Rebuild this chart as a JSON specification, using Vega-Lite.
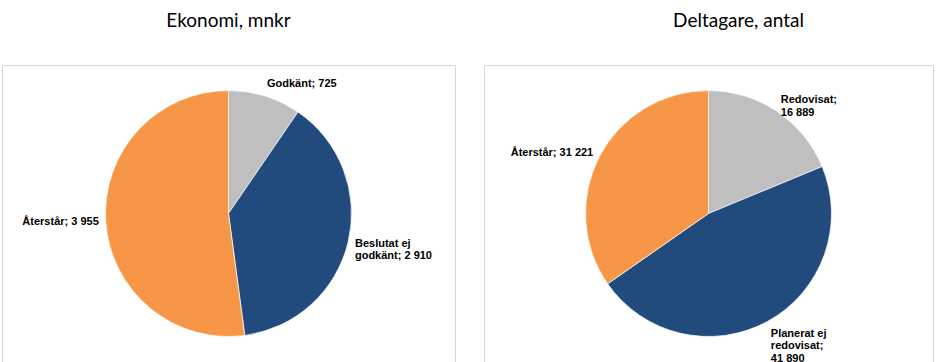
{
  "$schema": "https://vega.github.io/schema/vega-lite/v6.json",
  "padding": {"top": 11, "left": 1, "right": 0, "bottom": 0},
  "spacing": 27,
  "background": "white",
  "config": {
    "view": {"stroke": "#D9D9D9", "strokeWidth": 1},
    "title": {"font": "Lato", "fontSize": 19, "fontWeight": "normal", "color": "#000000", "anchor": "middle", "offset": 34}
  },
  "datasets": {
    "ekonomi": [
      {"category": "Godkänt", "value": 725, "order": 1, "label": "Godkänt; 725"},
      {"category": "Beslutat ej godkänt", "value": 2910, "order": 2, "label": "Beslutat ej\ngodkänt; 2 910"},
      {"category": "Återstår", "value": 3955, "order": 3, "label": "Återstår; 3 955"}
    ],
    "deltagare": [
      {"category": "Redovisat", "value": 16889, "order": 1, "label": "Redovisat;\n16 889"},
      {"category": "Planerat ej redovisat", "value": 41890, "order": 2, "label": "Planerat ej\nredovisat;\n41 890"},
      {"category": "Återstår", "value": 31221, "order": 3, "label": "Återstår; 31 221"}
    ]
  },
  "hconcat": [
    {
      "title": {"text": "Ekonomi, mnkr"},
      "width": 453,
      "height": 297,
      "view": {"stroke": "#D9D9D9", "strokeWidth": 1},
      "data": {"name": "ekonomi"},
      "encoding": {
        "theta": {"field": "value", "type": "quantitative", "stack": true},
        "order": {"field": "order", "type": "quantitative"}
      },
      "layer": [
        {
          "mark": {"type": "arc", "outerRadius": 123, "stroke": "#ffffff", "strokeWidth": 0.7},
          "encoding": {
            "color": {"field": "category", "type": "nominal", "legend": null,
              "scale": {"domain": ["Godkänt", "Beslutat ej godkänt", "Återstår", "Redovisat", "Planerat ej redovisat"],
                        "range": ["#BFBFBF", "#214A7D", "#F79646", "#BFBFBF", "#214A7D"]}}
          }
        },
        {
          "mark": {"type": "text", "radius": 130, "font": "Liberation Sans", "fontWeight": "bold", "fontSize": 11, "lineHeight": 12.5, "lineBreak": "\n", "color": "#000000",
            "align": {"expr": "datum.category == 'Återstår' ? 'right' : 'left'"},
            "baseline": {"expr": "datum.order == 1 ? 'bottom' : (datum.order == 2 && datum.category == 'Planerat ej redovisat' ? 'top' : 'middle')"}},
          "encoding": {"text": {"field": "label", "type": "nominal"}}
        }
      ]
    },
    {
      "title": {"text": "Deltagare, antal", "dx": 30},
      "width": 449,
      "height": 297,
      "view": {"stroke": "#D9D9D9", "strokeWidth": 1},
      "data": {"name": "deltagare"},
      "encoding": {
        "theta": {"field": "value", "type": "quantitative", "stack": true},
        "order": {"field": "order", "type": "quantitative"}
      },
      "layer": [
        {
          "mark": {"type": "arc", "outerRadius": 123, "stroke": "#ffffff", "strokeWidth": 0.7},
          "encoding": {
            "color": {"field": "category", "type": "nominal", "legend": null,
              "scale": {"domain": ["Godkänt", "Beslutat ej godkänt", "Återstår", "Redovisat", "Planerat ej redovisat"],
                        "range": ["#BFBFBF", "#214A7D", "#F79646", "#BFBFBF", "#214A7D"]}}
          }
        },
        {
          "mark": {"type": "text", "radius": 130, "font": "Liberation Sans", "fontWeight": "bold", "fontSize": 11, "lineHeight": 12.5, "lineBreak": "\n", "color": "#000000",
            "align": {"expr": "datum.category == 'Återstår' ? 'right' : 'left'"},
            "baseline": {"expr": "datum.order == 1 ? 'bottom' : (datum.order == 2 && datum.category == 'Planerat ej redovisat' ? 'top' : 'middle')"}},
          "encoding": {"text": {"field": "label", "type": "nominal"}}
        }
      ]
    }
  ],
  "resolve": {"scale": {"color": "shared"}}
}
